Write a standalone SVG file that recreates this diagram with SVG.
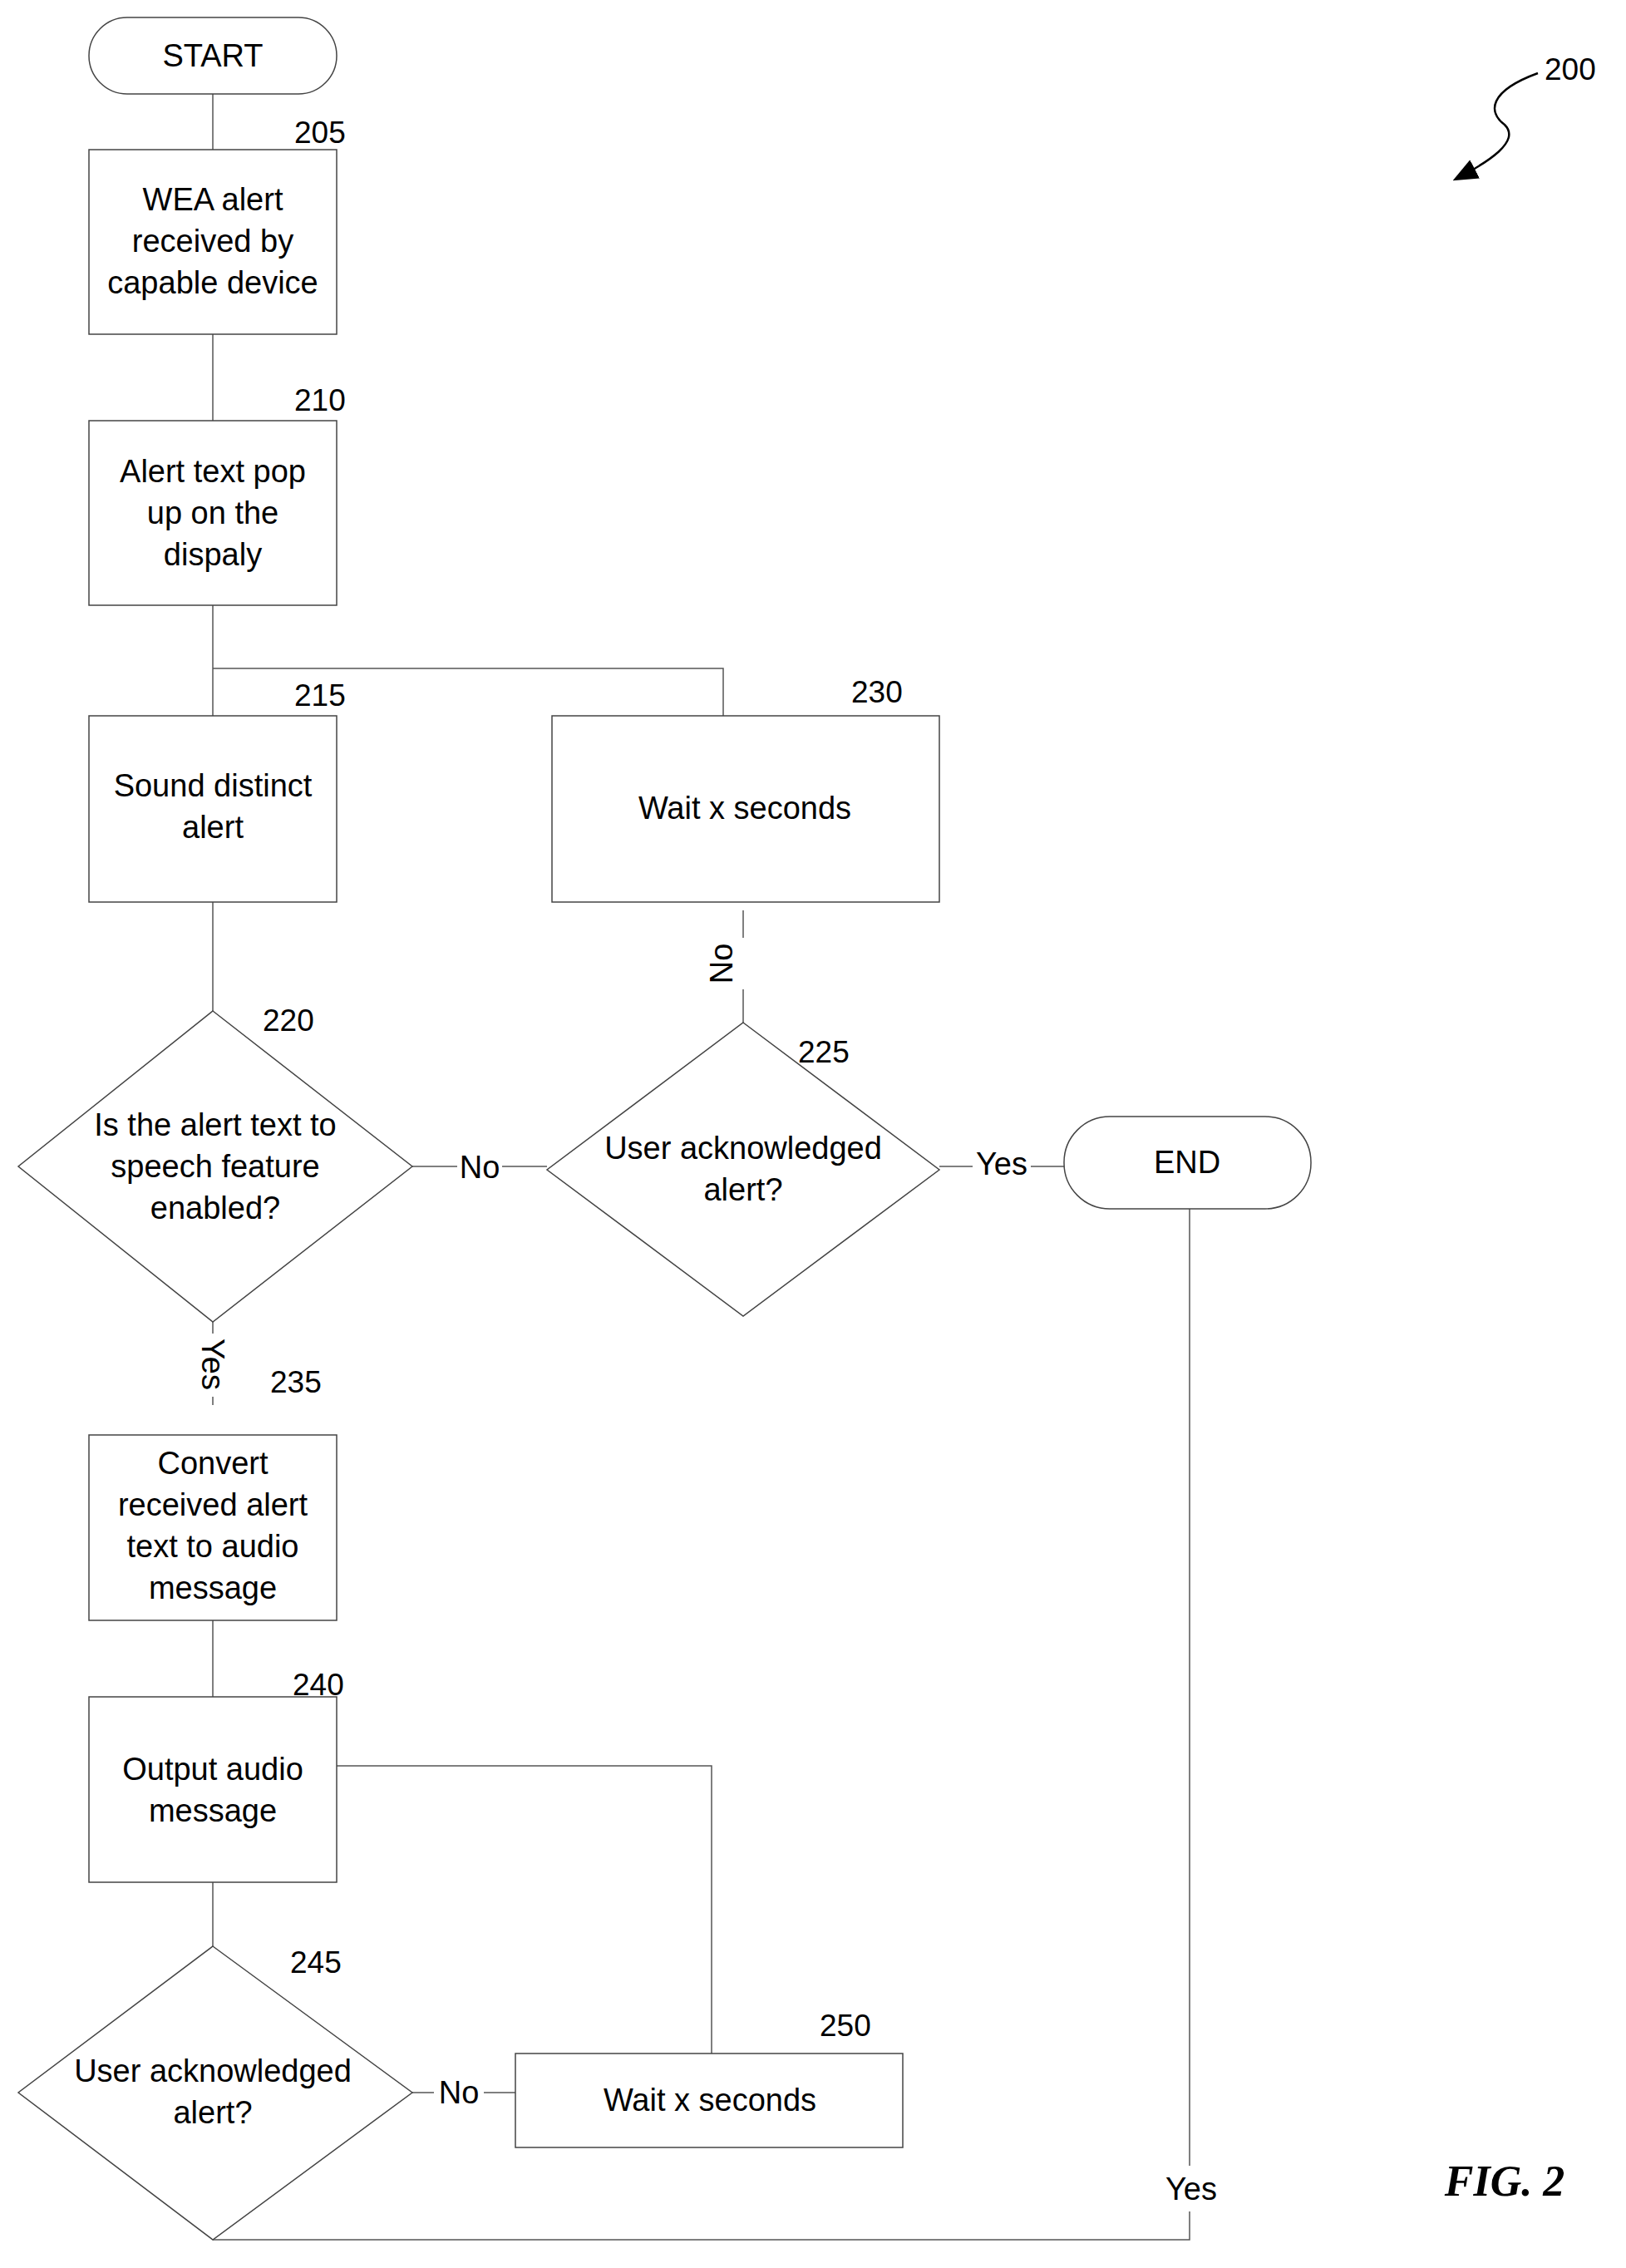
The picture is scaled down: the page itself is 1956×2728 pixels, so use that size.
<svg xmlns="http://www.w3.org/2000/svg" width="1956" height="2728" viewBox="0 0 1956 2728">
<style>
text{font-family:"Liberation Sans",Arial,sans-serif;font-size:38px;fill:#000;text-anchor:middle}
.lbl{text-anchor:start;font-size:37px}
.s{fill:#fff;stroke:#444;stroke-width:1.5}
.c{fill:none;stroke:#555;stroke-width:1.5}
</style>
<defs><marker id="ah" markerWidth="12" markerHeight="10" refX="10" refY="5" orient="auto"><path d="M0,0 L12,5 L0,10 z" fill="#000"/></marker></defs>
<rect width="1956" height="2728" fill="#fff"/>
<g id="connectors">
<path class="c" d="M256,113 V180 M256,402 V506 M256,728 V861 M256,804 H870 V861 M256,1085 V1216"/>
<path class="c" d="M496,1403 H550 M604,1403 H658 M894,1230 V1190 M894,1128 V1095"/>
<path class="c" d="M1130,1403 H1170 M1240,1403 H1280"/>
<path class="c" d="M256,1590 V1604 M256,1680 V1690"/>
<path class="c" d="M256,1949 V2041 M256,2264 V2341"/>
<path class="c" d="M405,2124 H856 V2470"/>
<path class="c" d="M496,2517 H522 M582,2517 H620"/>
<path class="c" d="M1431,1454 V2605 M1431,2660 V2694 H256"/>
<path d="M1850,88 C1790,110 1790,135 1810,150 C1830,170 1790,195 1752,215" fill="none" stroke="#000" stroke-width="2.5" marker-end="url(#ah)"/>
</g>
<g id="start"><rect class="s" x="107" y="21" width="298" height="92" rx="46"/><text x="256" y="80">START</text></g>
<g id="n205"><rect class="s" x="107" y="180" width="298" height="222"/><text class="lbl" x="354" y="172">205</text>
<text x="256" y="253">WEA alert</text><text x="256" y="303">received by</text><text x="256" y="353">capable device</text></g>
<g id="n210"><rect class="s" x="107" y="506" width="298" height="222"/><text class="lbl" x="354" y="494">210</text>
<text x="256" y="580">Alert text pop</text><text x="256" y="630">up on the</text><text x="256" y="680">dispaly</text></g>
<g id="n215"><rect class="s" x="107" y="861" width="298" height="224"/><text class="lbl" x="354" y="849">215</text>
<text x="256" y="958">Sound distinct</text><text x="256" y="1008">alert</text></g>
<g id="n230"><rect class="s" x="664" y="861" width="466" height="224"/><text class="lbl" x="1024" y="845">230</text>
<text x="896" y="985">Wait x seconds</text></g>
<g id="n220"><polygon class="s" points="256,1216 496,1403 256,1590 22,1403"/><text class="lbl" x="316" y="1240">220</text>
<text x="259" y="1366">Is the alert text to</text><text x="259" y="1416">speech feature</text><text x="259" y="1466">enabled?</text></g>
<g id="n225"><polygon class="s" points="894,1230 1130,1407 894,1583 658,1407"/><text class="lbl" x="960" y="1278">225</text>
<text x="894" y="1394">User acknowledged</text><text x="894" y="1444">alert?</text></g>
<g id="end"><rect class="s" x="1280" y="1343" width="297" height="111" rx="55"/><text x="1428" y="1411">END</text></g>
<g id="n235"><rect class="s" x="107" y="1726" width="298" height="223"/><text class="lbl" x="325" y="1675">235</text>
<text x="256" y="1773">Convert</text><text x="256" y="1823">received alert</text><text x="256" y="1873">text to audio</text><text x="256" y="1923">message</text></g>
<g id="n240"><rect class="s" x="107" y="2041" width="298" height="223"/><text class="lbl" x="352" y="2039">240</text>
<text x="256" y="2141">Output audio</text><text x="256" y="2191">message</text></g>
<g id="n245"><polygon class="s" points="256,2341 496,2517 256,2694 22,2517"/><text class="lbl" x="349" y="2373">245</text>
<text x="256" y="2504">User acknowledged</text><text x="256" y="2554">alert?</text></g>
<g id="n250"><rect class="s" x="620" y="2470" width="466" height="113"/><text class="lbl" x="986" y="2449">250</text>
<text x="854" y="2539">Wait x seconds</text></g>
<g id="labels">
<text x="577" y="1417">No</text>
<text x="1205" y="1413">Yes</text>
<text transform="translate(881,1159) rotate(-90)">No</text>
<text transform="translate(243,1641) rotate(90)">Yes</text>
<text x="552" y="2530">No</text>
<text x="1433" y="2646">Yes</text>
<text class="lbl" x="1858" y="96">200</text>
<text x="1810" y="2641" style="font-family:'Liberation Serif',serif;font-style:italic;font-weight:bold;font-size:52px">FIG. 2</text>
</g>
</svg>
